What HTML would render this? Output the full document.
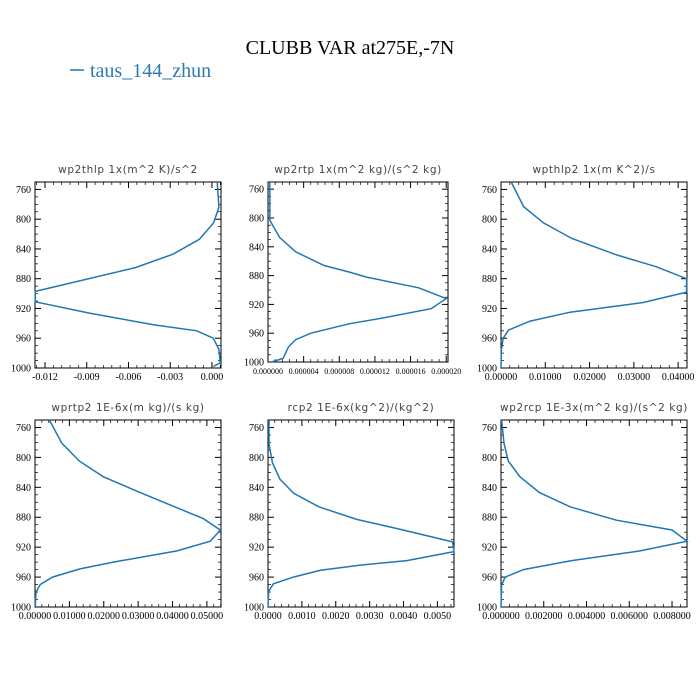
<!DOCTYPE html>
<html><head><meta charset="utf-8"><style>
body{margin:0;background:#fff;}
svg{display:block;}
</style></head><body>
<svg id="chart" width="700" height="700" xmlns="http://www.w3.org/2000/svg">
<rect width="700" height="700" fill="#fff"/>
<text x="350" y="54" text-anchor="middle" font-family="Liberation Serif, serif" font-size="20" fill="#000">CLUBB VAR at275E,-7N</text>
<g>
<line x1="70" y1="70" x2="84" y2="70" stroke="#1f77b4" stroke-width="1.5"/>
<text x="90" y="77" font-family="Liberation Serif, serif" font-size="20" fill="#2a7ab8">taus_144_zhun</text>
</g>
</svg>
<script>
const levels1=[750,784,805,827,847,865,897,911,926,942,950,960,975,993,998];
const wp2thlp=[0.00038,0.0005,0.00012,-0.0009,-0.0028,-0.0055,-0.0127,-0.0127,-0.0089,-0.0042,-0.0011,0.0001,0.0005,0.0006,0.0001];
const levels2=[750,803,827,847,866,875,882,897,912,926,939,947,960,969,979,995,1000];
const wp2rtp=[2e-7,2e-7,1.3e-6,3.1e-6,6.3e-6,9.1e-6,1.1e-5,1.69e-5,2.0e-5,1.83e-5,1.28e-5,9.1e-6,4.8e-6,3.1e-6,2.3e-6,1.7e-6,3.7e-7];
const levels3=[750,783,805,826,848,864,880,898,912,925,937,949,960,975,1000];
const wpthlp2=[0.0023,0.0051,0.0096,0.016,0.0261,0.0351,0.0419,0.0419,0.0321,0.0156,0.0066,0.0017,0.0005,0.0001,0];
const levels4=[750,781,805,826,847,882,897,912,925,940,949,960,970,980,999];
const wprtp2=[0.0042,0.0078,0.0129,0.0199,0.0306,0.049,0.0539,0.051,0.0413,0.0228,0.0131,0.0051,0.0015,0.0003,0.0001];
const levels5=[750,782,807,829,848,866,883,895,913,926,938,944,951,960,969,979,1000];
const rcp2=[0.00003,0.00003,0.00013,0.00035,0.00076,0.0015,0.00263,0.0038,0.00545,0.00549,0.0041,0.00273,0.00155,0.00075,0.00016,0.00002,0];
const levels6=[750,781,805,826,847,866,884,897,912,925,938,950,960,971,1000];
const wp2rcp=[0.00003,0.00014,0.00034,0.00089,0.0018,0.00323,0.0054,0.008,0.0087,0.0065,0.0033,0.00105,0.00019,0.00003,0];
const yTicks=[760,800,840,880,920,960,1000];

const panels=[
 {name:'wp2thlp',title:'wp2thlp  1x(m^2 K)/s^2',L:35,R:221,T:182,B:368,x0:-0.01272,x1:0.00065,t0:-0.012,step:0.003,n:5,dec:3,fs:10,lv:levels1,v:wp2thlp},
 {name:'wp2rtp',title:'wp2rtp  1x(m^2 kg)/(s^2 kg)',L:268,R:448,T:182,B:362,x0:0,x1:0.0000202,t0:0,step:0.000004,n:6,dec:6,fs:8,lv:levels2,v:wp2rtp},
 {name:'wpthlp2',title:'wpthlp2  1x(m K^2)/s',L:501,R:687,T:182,B:368,x0:0,x1:0.042,t0:0,step:0.01,n:5,dec:5,fs:10,lv:levels3,v:wpthlp2},
 {name:'wprtp2',title:'wprtp2  1E-6x(m kg)/(s kg)',L:35,R:221,T:420,B:607,x0:0,x1:0.0541,t0:0,step:0.01,n:6,dec:5,fs:10,lv:levels4,v:wprtp2},
 {name:'rcp2',title:'rcp2  1E-6x(kg^2)/(kg^2)',L:268,R:454,T:420,B:607,x0:0,x1:0.00549,t0:0,step:0.001,n:6,dec:4,fs:10,lv:levels5,v:rcp2},
 {name:'wp2rcp',title:'wp2rcp  1E-3x(m^2 kg)/(s^2 kg)',L:501,R:687,T:420,B:607,x0:0,x1:0.0087,t0:0,step:0.002,n:5,dec:6,fs:10,lv:levels6,v:wp2rcp}
];
const NS='http://www.w3.org/2000/svg';
const svg=document.getElementById('chart');
function mk(tag,attrs,parent){const e=document.createElementNS(NS,tag);for(const k in attrs)e.setAttribute(k,attrs[k]);parent.appendChild(e);return e;}
panels.forEach(p=>{
 const g=mk('g',{},svg);
 
 
 const X=v=>p.L+(v-p.x0)/(p.x1-p.x0)*(p.R-p.L);
 const Y=v=>p.B-(1000-v)/250*(p.B-p.T);
 const t=mk('text',{x:(p.L+p.R)/2,y:p.T-9,'text-anchor':'middle','font-family':'DejaVu Sans, sans-serif','font-size':'10.5','fill':'#444','letter-spacing':'0.6'},g);
 t.textContent=p.title;
 
 
 // y ticks
 for(let v=760;v<=1000;v+=10){
  const y=Y(v);const major=v%40===0;const len=major?6:3;
  mk('line',{x1:p.L,y1:y,x2:p.L+len,y2:y,stroke:'#000','stroke-width':major?1:0.7},g);
  mk('line',{x1:p.R,y1:y,x2:p.R-len,y2:y,stroke:'#000','stroke-width':major?1:0.7},g);
 }
 yTicks.forEach(v=>{
  const tl=mk('text',{x:p.L-4,y:Y(v)+3.5,'text-anchor':'end','font-family':'Liberation Serif, serif','font-size':'10',fill:'#000'},g);
  tl.textContent=String(v);
  
  
 });
 // x ticks
 const minor=p.step/5;
 for(let k=0;;k++){
  const v=p.t0-p.step+k*minor;
  if(v>p.x1+1e-12)break;
  if(v<p.x0-1e-12)continue;
  const x=X(v);const major=(k%5===0);const len=major?6:3;
  mk('line',{x1:x,y1:p.B,x2:x,y2:p.B-len,stroke:'#000','stroke-width':major?1:0.7},g);
  mk('line',{x1:x,y1:p.T,x2:x,y2:p.T+len,stroke:'#000','stroke-width':major?1:0.7},g);
 }
 for(let i=0;i<p.n;i++){
  const v=p.t0+i*p.step;
  const tl=mk('text',{x:X(v),y:p.B+12,'text-anchor':'middle','font-family':'Liberation Serif, serif','font-size':p.fs,fill:'#000'},g);
  tl.textContent=v.toFixed(p.dec);
  
  
 }
 const fr=mk('rect',{x:p.L,y:p.T,width:p.R-p.L,height:p.B-p.T,fill:'none',stroke:'#000','stroke-width':1},g);
 
 
 const pts=p.v.map((v,i)=>X(v).toFixed(1)+','+Y(p.lv[i]).toFixed(1)).join(' ');
 const line=mk('polyline',{points:pts,fill:'none',stroke:'#1f77b4','stroke-width':1.5},g);
 
 
});
</script>
</body></html>
